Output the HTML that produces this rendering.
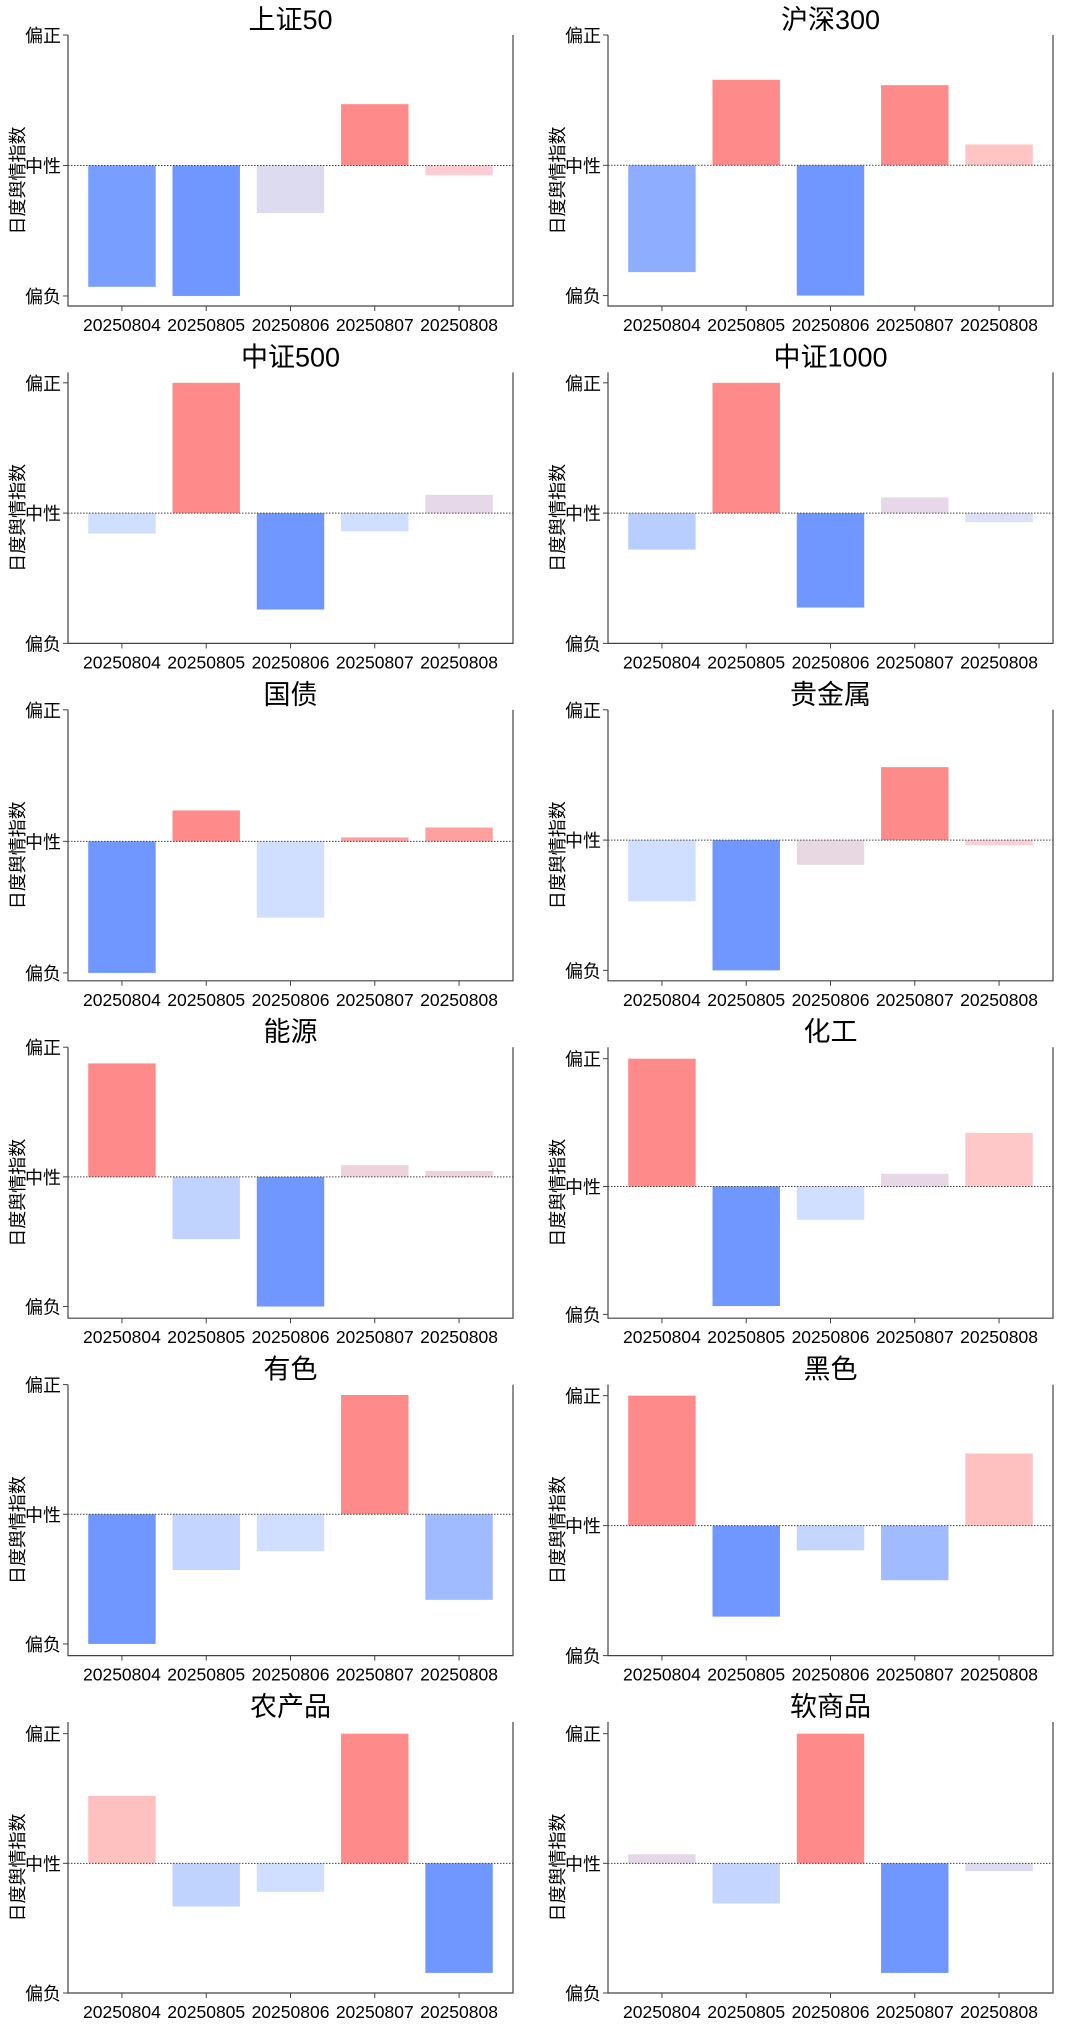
<!DOCTYPE html>
<html><head><meta charset="utf-8"><style>
html,body{margin:0;padding:0;background:#fff;}
svg{display:block;}
text{font-family:"Liberation Sans","Noto Sans CJK SC",sans-serif;fill:#000;}
</style></head><body>
<svg id="chart" width="1080" height="2025" viewBox="0 0 1080 2025" xmlns="http://www.w3.org/2000/svg"></svg>
<script>
const categories = ["20250804","20250805","20250806","20250807","20250808"];
const panelTitles = ["上证50","沪深300","中证500","中证1000","国债","贵金属","能源","化工","有色","黑色","农产品","软商品"];
const valsSZ50 = [-0.93,-1,-0.365,0.47,-0.075];
const valsHS300 = [-0.82,0.656,-1,0.615,0.16];
const valsZZ500 = [-0.157,1,-0.74,-0.14,0.14];
const valsZZ1000 = [-0.28,1,-0.725,0.12,-0.07];
const valsGZ = [-1,0.235,-0.58,0.03,0.105];
const valsGJS = [-0.47,-1,-0.19,0.56,-0.04];
const valsNY = [0.875,-0.48,-1,0.09,0.045];
const valsHG = [1,-0.935,-0.26,0.1,0.42];
const valsYS = [-1,-0.43,-0.285,0.92,-0.66];
const valsHS = [1,-0.7,-0.19,-0.42,0.555];
const valsNCP = [0.52,-0.333,-0.22,1,-0.845];
const valsRSP = [0.07,-0.31,1,-0.845,-0.06];
const yLimLow = [-1.077,-1.08,-1,-1,-1.06,-1.08,-1.09,-1.03,-1.09,-1,-1,-1];
const yLimHigh = [1,1,1.08,1.08,1,1,1,1.09,1,1.085,1.09,1.09];
const yTickValues = [1,0,-1];
const yTickLabels = ["偏正","中性","偏负"];
const allVals = [valsSZ50,valsHS300,valsZZ500,valsZZ1000,valsGZ,valsGJS,valsNY,valsHG,valsYS,valsHS,valsNCP,valsRSP];
const barColors = [
 ["#789eff","#7096ff","#dddbf0","#ff8a8a","#f9cdd3"],
 ["#8fadff","#ff8a8a","#7096ff","#ff8a8a","#ffc4c4"],
 ["#d0dfff","#ff8a8a","#7096ff","#d0dfff","#e6d8e8"],
 ["#b8ceff","#ff8a8a","#7096ff","#e6d8e8","#dde1f8"],
 ["#7096ff","#ff8a8a","#d0dfff","#ffa0a0","#ffa0a0"],
 ["#d0dfff","#7096ff","#e8d8e2","#ff8a8a","#f9d0d6"],
 ["#ff8a8a","#c0d3ff","#7096ff","#eed2dc","#eed2dc"],
 ["#ff8a8a","#7096ff","#d0dfff","#e8d8e6","#ffc8c8"],
 ["#7096ff","#c4d6ff","#d0dfff","#ff8a8a","#a0bbff"],
 ["#ff8a8a","#7096ff","#c4d6ff","#a0bbff","#ffc0c0"],
 ["#ffc0c0","#c0d3ff","#d0dfff","#ff8a8a","#7096ff"],
 ["#e4d8e8","#c4d6ff","#ff8a8a","#7096ff","#dddbf0"]
];
const NS="http://www.w3.org/2000/svg";
const svg=document.getElementById('chart');
function mk(tag,attrs,parent){const e=document.createElementNS(NS,tag);for(const k in attrs)e.setAttribute(k,attrs[k]);(parent||svg).appendChild(e);return e;}
const colLeft=[68,608], axW=445, rowTop0=35, rowStep=337.4, axH=271;
const xMin=-0.64, xMax=4.64;
panelTitles.forEach((title,p)=>{
  const col=p%2,row=Math.floor(p/2);
  const L=colLeft[col],T=rowTop0+row*rowStep,B=T+axH,R=L+axW;
  const lo=yLimLow[p],hi=yLimHigh[p];
  const xs=i=>L+(i-xMin)/(xMax-xMin)*axW;
  const ys=v=>B-(v-lo)/(hi-lo)*axH;
  const g=mk('g',{});
  
  
  const t=mk('text',{x:(L+R)/2,y:T-6,'text-anchor':'middle','font-size':27},g);
  t.textContent=title;
  
  
  const bw=0.8*axW/(xMax-xMin);
  allVals[p].forEach((v,i)=>{
    const y0=ys(0),y1=ys(v);
    const r=mk('rect',{x:xs(i)-bw/2,y:Math.min(y0,y1),width:bw,height:Math.abs(y1-y0),fill:barColors[p][i]},g);
    
    
  });
  const z=mk('line',{x1:L,x2:R,y1:ys(0),y2:ys(0),stroke:'#444','stroke-width':1,'stroke-dasharray':'1.5,1.5'},g);
  
  
  const sp=mk('path',{d:`M${L},${T} L${L},${B} L${R},${B} L${R},${T}`,fill:'none',stroke:'#444','stroke-width':1.2},g);
  
  
  yTickValues.forEach((tv,k)=>{
    const y=ys(tv);
    mk('line',{x1:L-5,x2:L,y1:y,y2:y,stroke:'#444','stroke-width':1},g);
    const tl=mk('text',{x:L-7,y:y+7,'text-anchor':'end','font-size':18},g);
    tl.textContent=yTickLabels[k];
    
    
  });
  categories.forEach((c,i)=>{
    const x=xs(i);
    mk('line',{x1:x,x2:x,y1:B,y2:B+5,stroke:'#444','stroke-width':1},g);
    const xl=mk('text',{x:x,y:B+25,'text-anchor':'middle','font-size':17.5},g);
    xl.textContent=c;
    
    
  });
  const cy=(T+B)/2+10;
  const yt=mk('text',{x:L-44,y:cy,'text-anchor':'middle','font-size':18,transform:`rotate(-90 ${L-44} ${cy})`},g);
  yt.textContent='日度舆情指数';
  
  
});
</script>
</body></html>
